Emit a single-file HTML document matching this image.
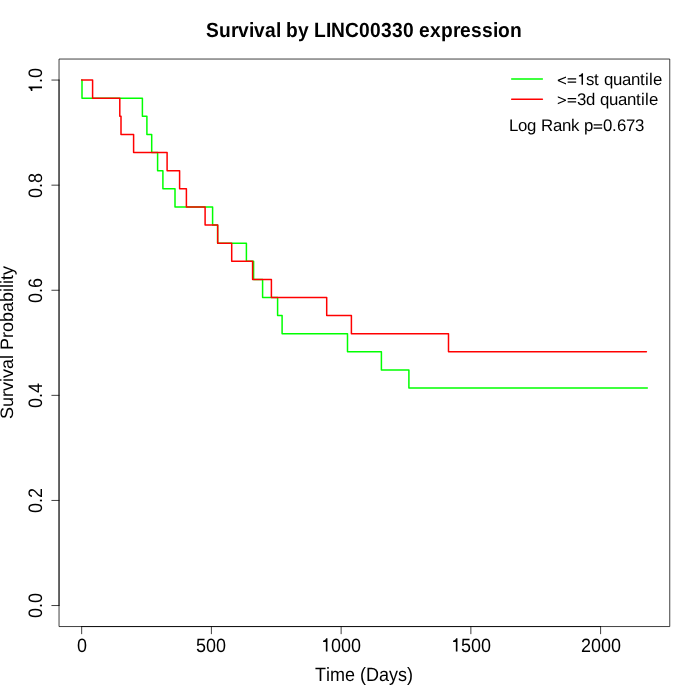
<!DOCTYPE html>
<html><head><meta charset="utf-8"><style>
html,body{margin:0;padding:0;background:#fff;width:700px;height:700px;overflow:hidden}
svg{display:block;will-change:transform}
text{text-rendering:geometricPrecision}
</style></head><body>
<svg width="700" height="700" viewBox="0 0 700 700">
<rect x="0" y="0" width="700" height="700" fill="#fff"/>
<path d="M81.66,80.06 H82.00 V98.18 H142.40 V116.30 H146.90 V134.42 H151.70 V152.54 H157.60 V170.66 H162.90 V188.78 H175.00 V206.90 H212.60 V225.02 H217.60 V243.14 H246.40 V261.26 H253.60 V279.38 H262.60 V297.50 H277.60 V315.62 H282.10 V333.74 H347.50 V351.86 H381.40 V369.98 H408.90 V388.10 H647.30" fill="none" stroke="#00ff00" stroke-width="1.5" stroke-linejoin="round" stroke-linecap="round"/>
<path d="M81.66,80.06 H92.60 V98.18 H119.80 V116.30 H121.00 V134.42 H133.60 V152.54 H167.10 V170.66 H179.60 V188.78 H186.40 V206.90 H205.10 V225.02 H217.70 V243.14 H231.70 V261.26 H252.60 V279.38 H271.40 V297.50 H326.70 V315.62 H351.40 V333.74 H448.50 V351.86 H646.40" fill="none" stroke="#ff0000" stroke-width="1.5" stroke-linejoin="round" stroke-linecap="round"/>
<rect x="59.04" y="59.04" width="610.72" height="567.52" fill="none" stroke="#000" stroke-width="0.75" stroke-linejoin="round"/>
<g stroke="#000" stroke-width="0.75" fill="none" stroke-linecap="round">
<line x1="81.66" y1="626.56" x2="600.60" y2="626.56"/>
<line x1="81.66" y1="626.56" x2="81.66" y2="633.76"/>
<line x1="211.40" y1="626.56" x2="211.40" y2="633.76"/>
<line x1="341.13" y1="626.56" x2="341.13" y2="633.76"/>
<line x1="470.87" y1="626.56" x2="470.87" y2="633.76"/>
<line x1="600.60" y1="626.56" x2="600.60" y2="633.76"/>
<line x1="59.04" y1="605.54" x2="59.04" y2="80.06"/>
<line x1="59.04" y1="605.54" x2="51.84" y2="605.54"/>
<line x1="59.04" y1="500.44" x2="51.84" y2="500.44"/>
<line x1="59.04" y1="395.35" x2="51.84" y2="395.35"/>
<line x1="59.04" y1="290.25" x2="51.84" y2="290.25"/>
<line x1="59.04" y1="185.16" x2="51.84" y2="185.16"/>
<line x1="59.04" y1="80.06" x2="51.84" y2="80.06"/>
</g>
<g font-family='"Liberation Sans", sans-serif' font-size="18" fill="#000">
<g transform="translate(0,651.60) scale(1,1.075)"><text x="77.00" y="0">0</text></g>
<g transform="translate(0,651.60) scale(1,1.075)"><text x="196.00 206.00 216.00" y="0">500</text></g>
<g transform="translate(0,651.60) scale(1,1.075)"><text x="331.00 341.00 351.00" y="0">000</text><path d="M325.84,0.00L327.46,0.00L327.46,-12.38L326.11,-12.38C325.86,-11.25 325.05,-10.35 323.07,-10.19L323.07,-8.86L325.84,-8.86Z"/></g>
<g transform="translate(0,651.60) scale(1,1.075)"><text x="461.00 471.00 481.00" y="0">500</text><path d="M455.84,0.00L457.46,0.00L457.46,-12.38L456.11,-12.38C455.86,-11.25 455.05,-10.35 453.07,-10.19L453.07,-8.86L455.84,-8.86Z"/></g>
<g transform="translate(0,651.60) scale(1,1.075)"><text x="581.00 591.00 601.00 611.00" y="0">2000</text></g>
<g transform="translate(42.00,0) rotate(-90) scale(1,1.085)"><text x="-618.00 -608.00 -603.00" y="0">0.0</text></g>
<g transform="translate(42.00,0) rotate(-90) scale(1,1.085)"><text x="-513.00 -503.00 -498.00" y="0">0.2</text></g>
<g transform="translate(42.00,0) rotate(-90) scale(1,1.085)"><text x="-408.00 -398.00 -393.00" y="0">0.4</text></g>
<g transform="translate(42.00,0) rotate(-90) scale(1,1.085)"><text x="-303.00 -293.00 -288.00" y="0">0.6</text></g>
<g transform="translate(42.00,0) rotate(-90) scale(1,1.085)"><text x="-198.00 -188.00 -183.00" y="0">0.8</text></g>
<g transform="translate(42.00,0) rotate(-90) scale(1,1.085)"><text x="-83.00 -78.00" y="0">.0</text><path d="M-88.16,0.00L-86.54,0.00L-86.54,-12.38L-87.89,-12.38C-88.14,-11.25 -88.95,-10.35 -90.93,-10.19L-90.93,-8.86L-88.16,-8.86Z"/></g>
<g transform="translate(0,680.95) scale(1,1.066)"><text x="315.00 326.00 330.00 345.00 360.00 366.00 379.00 389.00 398.00 407.00" y="0">Time(Days)</text></g>
<g transform="translate(13.00,0) rotate(-90) scale(1,1.000)"><text x="-419.00 -407.00 -397.00 -391.00 -382.00 -378.00 -369.00 -359.00 -350.00 -338.00 -332.00 -322.00 -312.00 -302.00 -292.00 -288.00 -284.00 -280.00 -275.00" y="0">SurvivalProbability</text></g>
</g>
<g font-family='"Liberation Sans", sans-serif' font-size="19.20" font-weight="bold" fill="#000" transform="translate(0,36.80) scale(1,1.070)"><text x="206.00 219.00 231.00 238.00 249.00 254.00 265.00 276.00 286.00 298.00 314.00 326.00 331.00 345.00 359.00 370.00 381.00 392.00 403.00 419.00 430.00 441.00 453.00 460.00 471.00 482.00 493.00 498.00 510.00" y="0">SurvivalbyLINC00330expression</text></g>
<line x1="511.7" y1="79.1" x2="542.4" y2="79.1" stroke="#00ff00" stroke-width="1.5" stroke-linecap="round"/>
<line x1="511.7" y1="99.3" x2="542.4" y2="99.3" stroke="#ff0000" stroke-width="1.5" stroke-linecap="round"/>
<g font-family='"Liberation Sans", sans-serif' font-size="16.80" fill="#000">
<g transform="translate(0,84.70)"><text x="586.00 594.00 604.00 613.00 622.00 631.00 640.00 645.00 649.00 653.00" y="0">stquantile</text><path d="M566.00,-8.32L557.81,-4.84L557.81,-3.66L566.00,-0.18L566.00,-1.44L559.39,-4.25L566.00,-7.06ZM567.66,-5.31L576.16,-5.31L576.16,-6.55L567.66,-6.55ZM567.66,-1.93L576.16,-1.93L576.16,-3.18L567.66,-3.18ZM581.52,0.00L583.03,0.00L583.03,-11.56L581.77,-11.56C581.54,-10.50 580.78,-9.66 578.93,-9.51L578.93,-8.27L581.52,-8.27Z"/></g>
<g transform="translate(0,104.50)"><text x="577.00 586.00 600.00 609.00 618.00 627.00 636.00 641.00 645.00 649.00" y="0">3dquantile</text><path d="M557.81,-8.32L566.00,-4.84L566.00,-3.66L557.81,-0.18L557.81,-1.44L564.43,-4.25L557.81,-7.06ZM567.66,-5.31L576.16,-5.31L576.16,-6.55L567.66,-6.55ZM567.66,-1.93L576.16,-1.93L576.16,-3.18L567.66,-3.18Z"/></g>
<g transform="translate(0,130.80)"><text x="509.00 518.00 527.00 541.00 553.00 562.00 571.00 584.00 603.00 612.00 617.00 626.00 635.00" y="0">LogRankp0.673</text><path d="M593.66,-5.31L602.16,-5.31L602.16,-6.55L593.66,-6.55ZM593.66,-1.93L602.16,-1.93L602.16,-3.18L593.66,-3.18Z"/></g>
</g>
</svg>
</body></html>
